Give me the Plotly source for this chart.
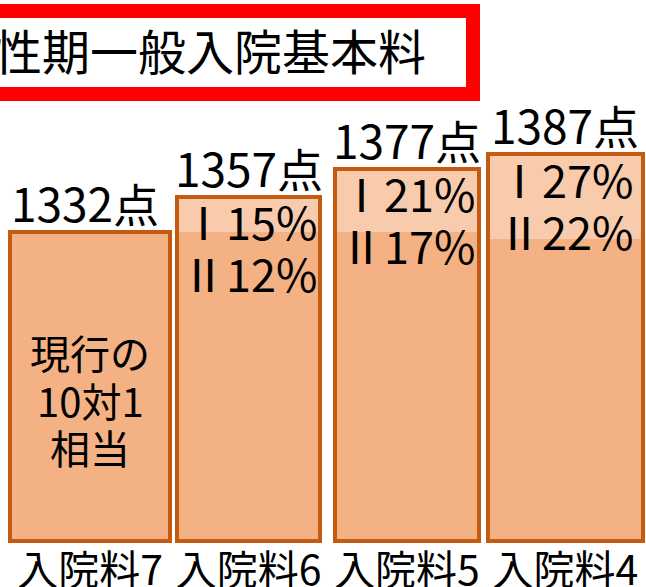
import plotly.graph_objects as go

# ---- data ----
categories = ["入院料7", "入院料6", "入院料5", "入院料4"]
points = [1332, 1357, 1377, 1387]
split_levels = [1332, 1332, 1332, 1327]  # lower edge of the lighter top segment
rate_I = ["", "15%", "21%", "27%"]
rate_II = ["", "12%", "17%", "22%"]
bar1_lines = ["現行の", "10対1", "相当"]
title_text = "急性期一般入院基本料"

# ---- style / layout constants ----
W, H = 646, 587
MB = 44
PH = H - MB
Y0, Y1 = 1111.4, 1496.5
PXU = PH / (Y1 - Y0)
BASE = 1113
widths = [1.01, 0.90, 0.91, 0.98]
XR = [-0.568, 3.508]
FONT = "Noto Sans CJK JP"
MAIN = "#F4B183"
LIGHT = "#F8CBAD"
EDGE = "#C55A11"


def py2val(py):
    return Y1 - py / PXU


def px2paper(px):
    return px / W


def py2paper(py):
    return (PH - py) / PH


fig = go.Figure()

# lower (main) segment
fig.add_trace(go.Bar(
    x=categories, y=[s - BASE for s in split_levels], base=[BASE] * 4,
    width=widths, marker=dict(color=MAIN, line=dict(width=0)),
    hoverinfo="skip", showlegend=False))
# lighter top segment
fig.add_trace(go.Bar(
    x=categories, y=[max(v - s, 0) for v, s in zip(points, split_levels)],
    base=split_levels, width=widths,
    marker=dict(color=LIGHT, line=dict(width=0)),
    hoverinfo="skip", showlegend=False))
# outline
fig.add_trace(go.Bar(
    x=categories, y=[v - BASE for v in points], base=[BASE] * 4,
    width=widths, marker=dict(color="rgba(0,0,0,0)", line=dict(width=4, color=EDGE)),
    hoverinfo="skip", showlegend=False))

ann = []
for i, (c, v) in enumerate(zip(categories, points)):
    ann.append(dict(x=c, y=v, xref="x", yref="y", text=f"{v}点", showarrow=False,
                    yanchor="middle", yshift=30, xshift=(-5 if i == 0 else 0),
                    font=dict(size=46, color="black", family=FONT)))
for c, v, a, b in zip(categories, points, rate_I, rate_II):
    if a:
        ann.append(dict(x=c, y=v, xref="x", yref="y", text=f"Ⅰ{a}", showarrow=False,
                        yanchor="middle", yshift=-24, xshift=0,
                        font=dict(size=45, color="black", family=FONT)))
    if b:
        ann.append(dict(x=c, y=v, xref="x", yref="y", text=f"Ⅱ{b}", showarrow=False,
                        yanchor="middle", yshift=-76, xshift=0,
                        font=dict(size=45, color="black", family=FONT)))
for i, line in enumerate(bar1_lines):
    ann.append(dict(x=categories[0], y=py2val(352 + 47.5 * i), xref="x", yref="y",
                    text=line, showarrow=False, yanchor="middle",
                    font=dict(size=40, color="black", family=FONT)))
ann.append(dict(x=px2paper(428), y=py2paper(49), xref="paper", yref="paper",
                text=title_text, showarrow=False, xanchor="right", yanchor="middle",
                font=dict(size=48, color="black", family=FONT)))

fig.update_layout(
    width=W, height=H, template="none",
    paper_bgcolor="white", plot_bgcolor="white",
    margin=dict(l=0, r=0, t=0, b=MB, pad=0),
    barmode="overlay", bargap=0,
    annotations=ann,
    shapes=[dict(type="rect", xref="paper", yref="paper",
                 x0=px2paper(-20), x1=px2paper(473), y0=py2paper(94), y1=py2paper(11),
                 line=dict(color="#FF0000", width=14), fillcolor="rgba(0,0,0,0)",
                 layer="above")],
    xaxis=dict(range=XR, showgrid=False, zeroline=False, showline=False, ticks="",
               automargin=False, tickfont=dict(size=41, color="black", family=FONT)),
    yaxis=dict(range=[Y0, Y1], visible=False, showgrid=False, zeroline=False),
)

fig.write_html("out.html")
